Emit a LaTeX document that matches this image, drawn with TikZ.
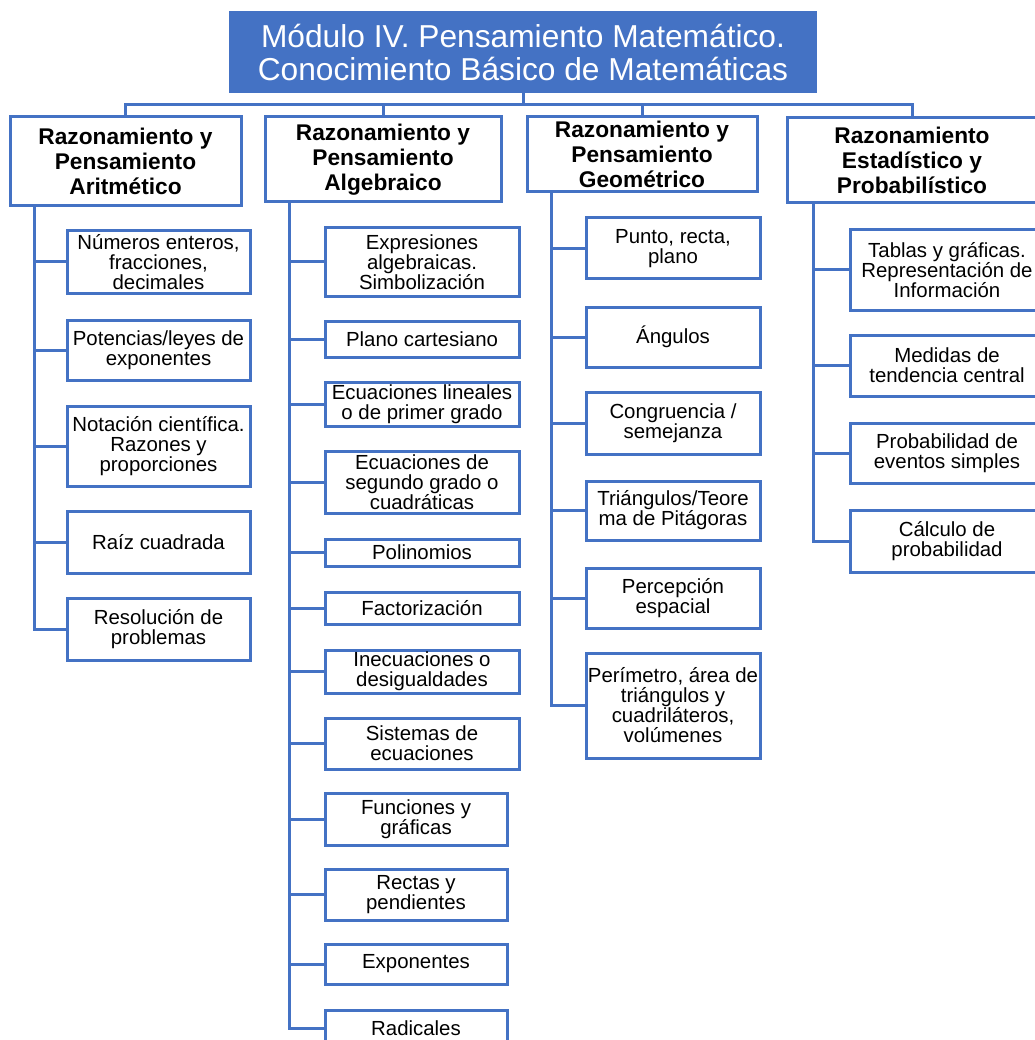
\documentclass[tikz,border=0pt]{standalone}
\usepackage{fontspec}
\setmainfont{Liberation Sans}
\usetikzlibrary{positioning}
\definecolor{azul}{RGB}{68,114,196}
\tikzset{
    titlenode/.style={
        rectangle,
        draw=azul,
        fill=azul,
        text=white,
        line width=2pt,
        align=center,
        inner sep=0,
        font=\fontsize{31.7}{33}\selectfont
    },
    headnode/.style={
        rectangle,
        draw=azul,
        fill=white,
        line width=3pt, % borde grueso
        align=center,
        inner sep=0,
        font=\bfseries\fontsize{22.7}{25}\selectfont
    },
    itemnode/.style={
        rectangle,
        draw=azul,
        fill=white,
        line width=3pt,
        align=center,
        inner sep=0,
        font=\fontsize{20.4}{20}\selectfont
    },
    size/.style 2 args={minimum width=#1pt, minimum height=#2pt},
    branch/.style={draw=azul, line width=3pt}
}

\begin{document}
\begin{tikzpicture}[x=1pt, y=-1pt]
    \useasboundingbox (0,0) rectangle (1034,1040);

    % titulo y encabezados
    \node[titlenode, size={586}{80}] (title) at (523,52)
        {Módulo IV. Pensamiento Matemático.\\Conocimiento Básico de Matemáticas};
    \node[headnode, size={231}{89}] (h1) at (125.5,161.5) {Razonamiento y\\Pensamiento\\Aritmético};
    \node[headnode, size={236}{85}] (h2) at (383,159.5) {Razonamiento y\\Pensamiento\\Algebraico};
    \node[headnode, size={230}{75}] (h3) at (642,154.5) {Razonamiento y\\Pensamiento\\Geométrico};
    \node[headnode, size={250}{85}] (h4) at (912,160.5) {Razonamiento\\Estadístico y\\Probabilístico};

    \coordinate (bus) at (523,105);
    \draw[branch] (title.south) -- (bus);
    \draw[branch] (bus) -| (h1.north);
    \draw[branch] (bus) -| (h2.north);
    \draw[branch] (bus) -| (h3.north);
    \draw[branch] (bus) -| (h4.north);

    % aritmetico
    \coordinate (s1) at (34,0);
    \node[itemnode, size={183}{62}] (a1) at (158.5,262) {Números enteros,\\fracciones,\\decimales};
    \node[itemnode, size={183}{60}] (a2) at (158.5,350) {Potencias/leyes de\\exponentes};
    \node[itemnode, size={183}{80}] (a3) at (158.5,446) {Notación científica.\\Razones y\\proporciones};
    \node[itemnode, size={183}{62}] (a4) at (158.5,542) {Raíz cuadrada};
    \node[itemnode, size={183}{62}] (a5) at (158.5,629) {Resolución de\\problemas};
    \foreach \n in {a1,a2,a3,a4,a5}
        \draw[branch] (h1.south -| s1) |- (\n.west);

    % algebraico
    \coordinate (s2) at (289,0);
    \node[itemnode, size={194}{68}] (b1) at (422,262) {Expresiones\\algebraicas.\\Simbolización};
    \node[itemnode, size={194}{36}] (b2) at (422,339) {Plano cartesiano};
    \node[itemnode, size={194}{44}] (b3) at (422,404) {Ecuaciones lineales\\o de primer grado};
    \node[itemnode, size={194}{62}] (b4) at (422,482) {Ecuaciones de\\segundo grado o\\cuadráticas};
    \node[itemnode, size={194}{27}] (b5) at (422,552.5) {Polinomios};
    \node[itemnode, size={194}{32}] (b6) at (422,608) {Factorización};
    \node[itemnode, size={194}{43}] (b7) at (422,671.5) {Inecuaciones o\\desigualdades};
    \node[itemnode, size={194}{51}] (b8) at (422,743.5) {Sistemas de\\ecuaciones};
    \node[itemnode, size={182}{52}] (b9) at (416,819) {Funciones y\\gráficas};
    \node[itemnode, size={182}{51}] (b10) at (416,894.5) {Rectas y\\pendientes};
    \node[itemnode, size={182}{40}] (b11) at (416,964) {Exponentes};
    \node[itemnode, size={182}{36}] (b12) at (416,1028) {Radicales};
    \foreach \n in {b1,b2,b3,b4,b5,b6,b7,b8,b9,b10,b11,b12}
        \draw[branch] (h2.south -| s2) |- (\n.west);

    % geometrico
    \coordinate (s3) at (551,0);
    \node[itemnode, size={174}{61}] (c1) at (673,248.5) {Punto, recta,\\plano};
    \node[itemnode, size={174}{60}] (c2) at (673,337) {Ángulos};
    \node[itemnode, size={174}{62}] (c3) at (673,423) {Congruencia /\\semejanza};
    \node[itemnode, size={174}{59}] (c4) at (673,510.5) {Triángulos/Teore\\ma de Pitágoras};
    \node[itemnode, size={174}{60}] (c5) at (673,598) {Percepción\\espacial};
    \node[itemnode, size={174}{105}] (c6) at (673,705.5) {Perímetro, área de\\triángulos y\\cuadriláteros,\\volúmenes};
    \foreach \n in {c1,c2,c3,c4,c5,c6}
        \draw[branch] (h3.south -| s3) |- (\n.west);

    % estadistico
    \coordinate (s4) at (813,0);
    \node[itemnode, size={194}{80}] (d1) at (947,270) {Tablas y gráficas.\\Representación de\\Información};
    \node[itemnode, size={194}{61}] (d2) at (947,365.5) {Medidas de\\tendencia central};
    \node[itemnode, size={194}{60}] (d3) at (947,453) {Probabilidad de\\eventos simples};
    \node[itemnode, size={194}{62}] (d4) at (947,541) {Cálculo de\\probabilidad};
    \foreach \n in {d1,d2,d3,d4}
        \draw[branch] (h4.south -| s4) |- (\n.west);
\end{tikzpicture}
\end{document}
